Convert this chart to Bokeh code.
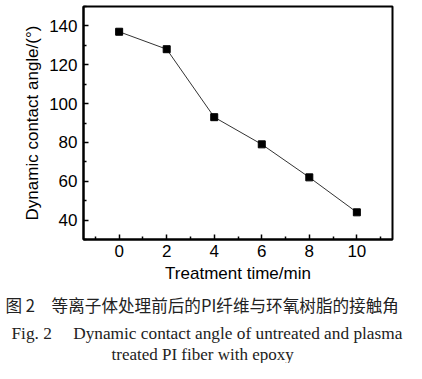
from bokeh.plotting import figure
from bokeh.models import Range1d, FixedTicker, Title
from bokeh.embed import file_html
from bokeh.resources import INLINE

# ---- data ----
time_min = [0, 2, 4, 6, 8, 10]
contact_angle = [137, 128, 93, 79, 62, 44]
x_major_ticks = [0, 2, 4, 6, 8, 10]
x_minor_ticks = [-1, 1, 3, 5, 7, 9, 11]
y_major_ticks = [40, 60, 80, 100, 120, 140]
y_minor_ticks = [30, 50, 70, 90, 110, 130, 150]
x_label = "Treatment time/min"
y_label = "Dynamic contact angle/(°)"
caption_cn = "图 2　等离子体处理前后的PI纤维与环氧树脂的接触角"
caption_en_1 = "Fig. 2\u3000 Dynamic contact angle of untreated and plasma"
caption_en_2 = "treated PI fiber with epoxy"

SANS = "Liberation Sans"
W, H = 406, 363

p = figure(width=W, height=H,
           x_range=Range1d(-1.5, 11.5), y_range=Range1d(30, 150),
           output_backend="svg", toolbar_location=None,
           min_border_left=83, min_border_right=14,
           min_border_top=6, min_border_bottom=123)
p.background_fill_color = "white"
p.border_fill_color = "white"
p.outline_line_color = "black"
p.outline_line_width = 2
p.outline_line_alpha = 1
p.xgrid.visible = False
p.ygrid.visible = False

p.xaxis.ticker = FixedTicker(ticks=x_major_ticks, minor_ticks=x_minor_ticks)
p.yaxis.ticker = FixedTicker(ticks=y_major_ticks, minor_ticks=y_minor_ticks)
p.xaxis.axis_label = x_label
p.yaxis.axis_label = y_label
for ax in (p.xaxis, p.yaxis):
    ax.axis_line_width = 2
    ax.axis_line_color = "black"
    ax.major_tick_in = 5
    ax.major_tick_out = 0
    ax.minor_tick_in = 3
    ax.minor_tick_out = 0
    ax.major_tick_line_width = 1.5
    ax.minor_tick_line_width = 1.5
    ax.major_tick_line_color = "black"
    ax.minor_tick_line_color = "black"
    ax.major_label_text_font = SANS
    ax.major_label_text_font_size = "17px"
    ax.major_label_text_color = "black"
    ax.axis_label_text_font = SANS
    ax.axis_label_text_font_size = "17px"
    ax.axis_label_text_font_style = "normal"
    ax.axis_label_text_color = "black"
p.xaxis.major_label_standoff = 5
p.xaxis.axis_label_standoff = 4
p.yaxis.major_label_standoff = 6
p.yaxis.axis_label_standoff = 4

p.line(time_min, contact_angle, line_color="#333333", line_width=1)
p.scatter(time_min, contact_angle, marker="square", size=7,
          fill_color="black", line_color="black")

# ---- caption lines as titles stacked below the x axis ----
p.add_layout(Title(text=caption_cn, text_font="Noto Sans CJK SC", text_font_size="16.6px",
                   text_font_style="normal", text_color="#222222",
                   align="left", offset=-78, standoff=10), "below")
p.add_layout(Title(text=caption_en_1, text_font="Liberation Serif", text_font_size="17.3px",
                   text_font_style="normal", text_color="#222222",
                   align="left", offset=-72, standoff=0), "below")
p.add_layout(Title(text=caption_en_2, text_font="Liberation Serif", text_font_size="17px",
                   text_font_style="normal", text_color="#222222",
                   align="left", offset=28, standoff=0), "below")

open("out.html", "w").write(file_html(p, INLINE))
